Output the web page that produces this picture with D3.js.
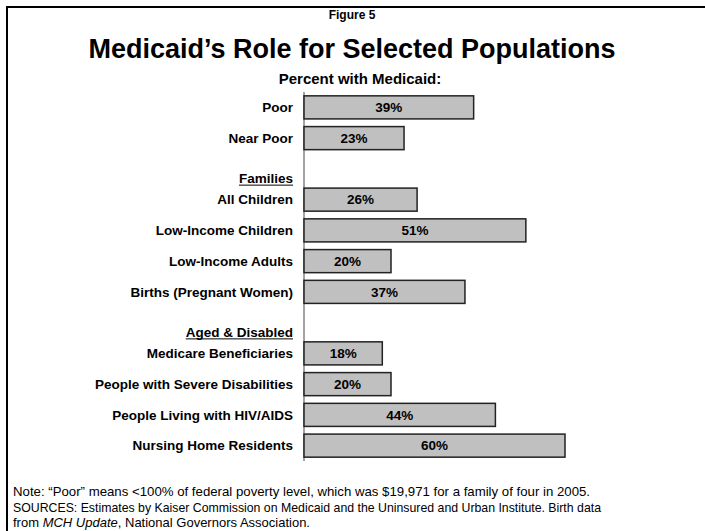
<!DOCTYPE html>
<html><head><meta charset="utf-8">
<script src="https://cdn.jsdelivr.net/npm/d3@7"></script>
<style>
html,body{margin:0;padding:0;background:#fff;}
svg{display:block;font-family:"Liberation Sans",Arial,Helvetica,sans-serif;}
</style></head>
<body>
<svg id="chart" width="705" height="531"></svg>
<script>
const categories = ["Poor","Near Poor","All Children","Low-Income Children","Low-Income Adults","Births (Pregnant Women)","Medicare Beneficiaries","People with Severe Disabilities","People Living with HIV/AIDS","Nursing Home Residents"];
const values = [39,23,26,51,20,37,18,20,44,60];
const slots = [0,1,3,4,5,6,8,9,10,11];
const groupHeaders = ["Families","Aged & Disabled"];
const headerSlots = [3,8];
const valueLabels = values.map(v => v + "%");

const svg = d3.select("#chart");
// frame
svg.append("rect").attr("x",7).attr("y",7).attr("width",720).attr("height",560)
  .attr("fill","none").attr("stroke","#000").attr("stroke-width",2);

svg.append("text").attr("x",352).attr("y",19).attr("text-anchor","middle")
  .attr("font-size",12).attr("font-weight","bold").text("Figure 5");
svg.append("text").attr("x",352).attr("y",58).attr("text-anchor","middle")
  .attr("font-size",27).attr("font-weight","bold").text("Medicaid\u2019s Role for Selected Populations");
svg.append("text").attr("x",360).attr("y",84).attr("text-anchor","middle")
  .attr("font-size",15).attr("font-weight","bold").text("Percent with Medicaid:");

const x = d3.scaleLinear().domain([0,60]).range([304,565]);
const y = d3.scaleBand().domain(d3.range(12)).range([92,461]).paddingInner(0.25).paddingOuter(0.125);

// axis line
svg.append("line").attr("x1",x(0)).attr("x2",x(0)).attr("y1",92).attr("y2",461)
  .attr("stroke","#666").attr("stroke-width",1.2);

const data = categories.map((c,i)=>({c, v:values[i], s:slots[i], l:valueLabels[i]}));
svg.selectAll("rect.bar").data(data).enter().append("rect").attr("class","bar")
  .attr("x",x(0)).attr("y",d=>y(d.s)).attr("width",d=>x(d.v)-x(0)).attr("height",y.bandwidth())
  .attr("fill","#c0c0c0").attr("stroke","#222").attr("stroke-width",1.5);

svg.selectAll("text.val").data(data).enter().append("text").attr("class","val")
  .attr("x",d=>(x(0)+x(d.v))/2).attr("y",d=>y(d.s)+y.bandwidth()/2).attr("dy","0.35em")
  .attr("text-anchor","middle").attr("font-size",13.5).attr("font-weight","bold").text(d=>d.l);

svg.selectAll("text.cat").data(data).enter().append("text").attr("class","cat")
  .attr("x",293).attr("y",d=>y(d.s)+y.bandwidth()/2).attr("dy","0.35em")
  .attr("text-anchor","end").attr("font-size",13.5).attr("font-weight","bold").text(d=>d.c);

groupHeaders.forEach((h,i)=>{
  const yy = y(headerSlots[i])+y.bandwidth()/2-21.5;
  const t = svg.append("text").attr("x",293).attr("y",yy).attr("dy","0.35em")
    .attr("text-anchor","end").attr("font-size",13.5).attr("font-weight","bold").text(h);
  const w = t.node().getComputedTextLength();
  svg.append("line").attr("x1",293-w).attr("x2",293).attr("y1",yy+7).attr("y2",yy+7)
    .attr("stroke","#000").attr("stroke-width",1);
});

const foot = svg.append("g").attr("font-size",13);
foot.append("text").attr("x",13).attr("y",496).attr("textLength",577).attr("lengthAdjust","spacingAndGlyphs")
  .text("Note:  \u201cPoor\u201d means <100% of federal poverty level, which was $19,971 for a family of four in 2005.");
foot.append("text").attr("x",13).attr("y",512).attr("textLength",588).attr("lengthAdjust","spacingAndGlyphs")
  .text("SOURCES: Estimates by Kaiser Commission on Medicaid and the Uninsured and Urban Institute. Birth data");
const f3 = foot.append("text").attr("x",13).attr("y",527);
f3.append("tspan").text("from ");
f3.append("tspan").attr("font-style","italic").text("MCH Update");
f3.append("tspan").text(", National Governors Association.");
</script>
</body></html>
